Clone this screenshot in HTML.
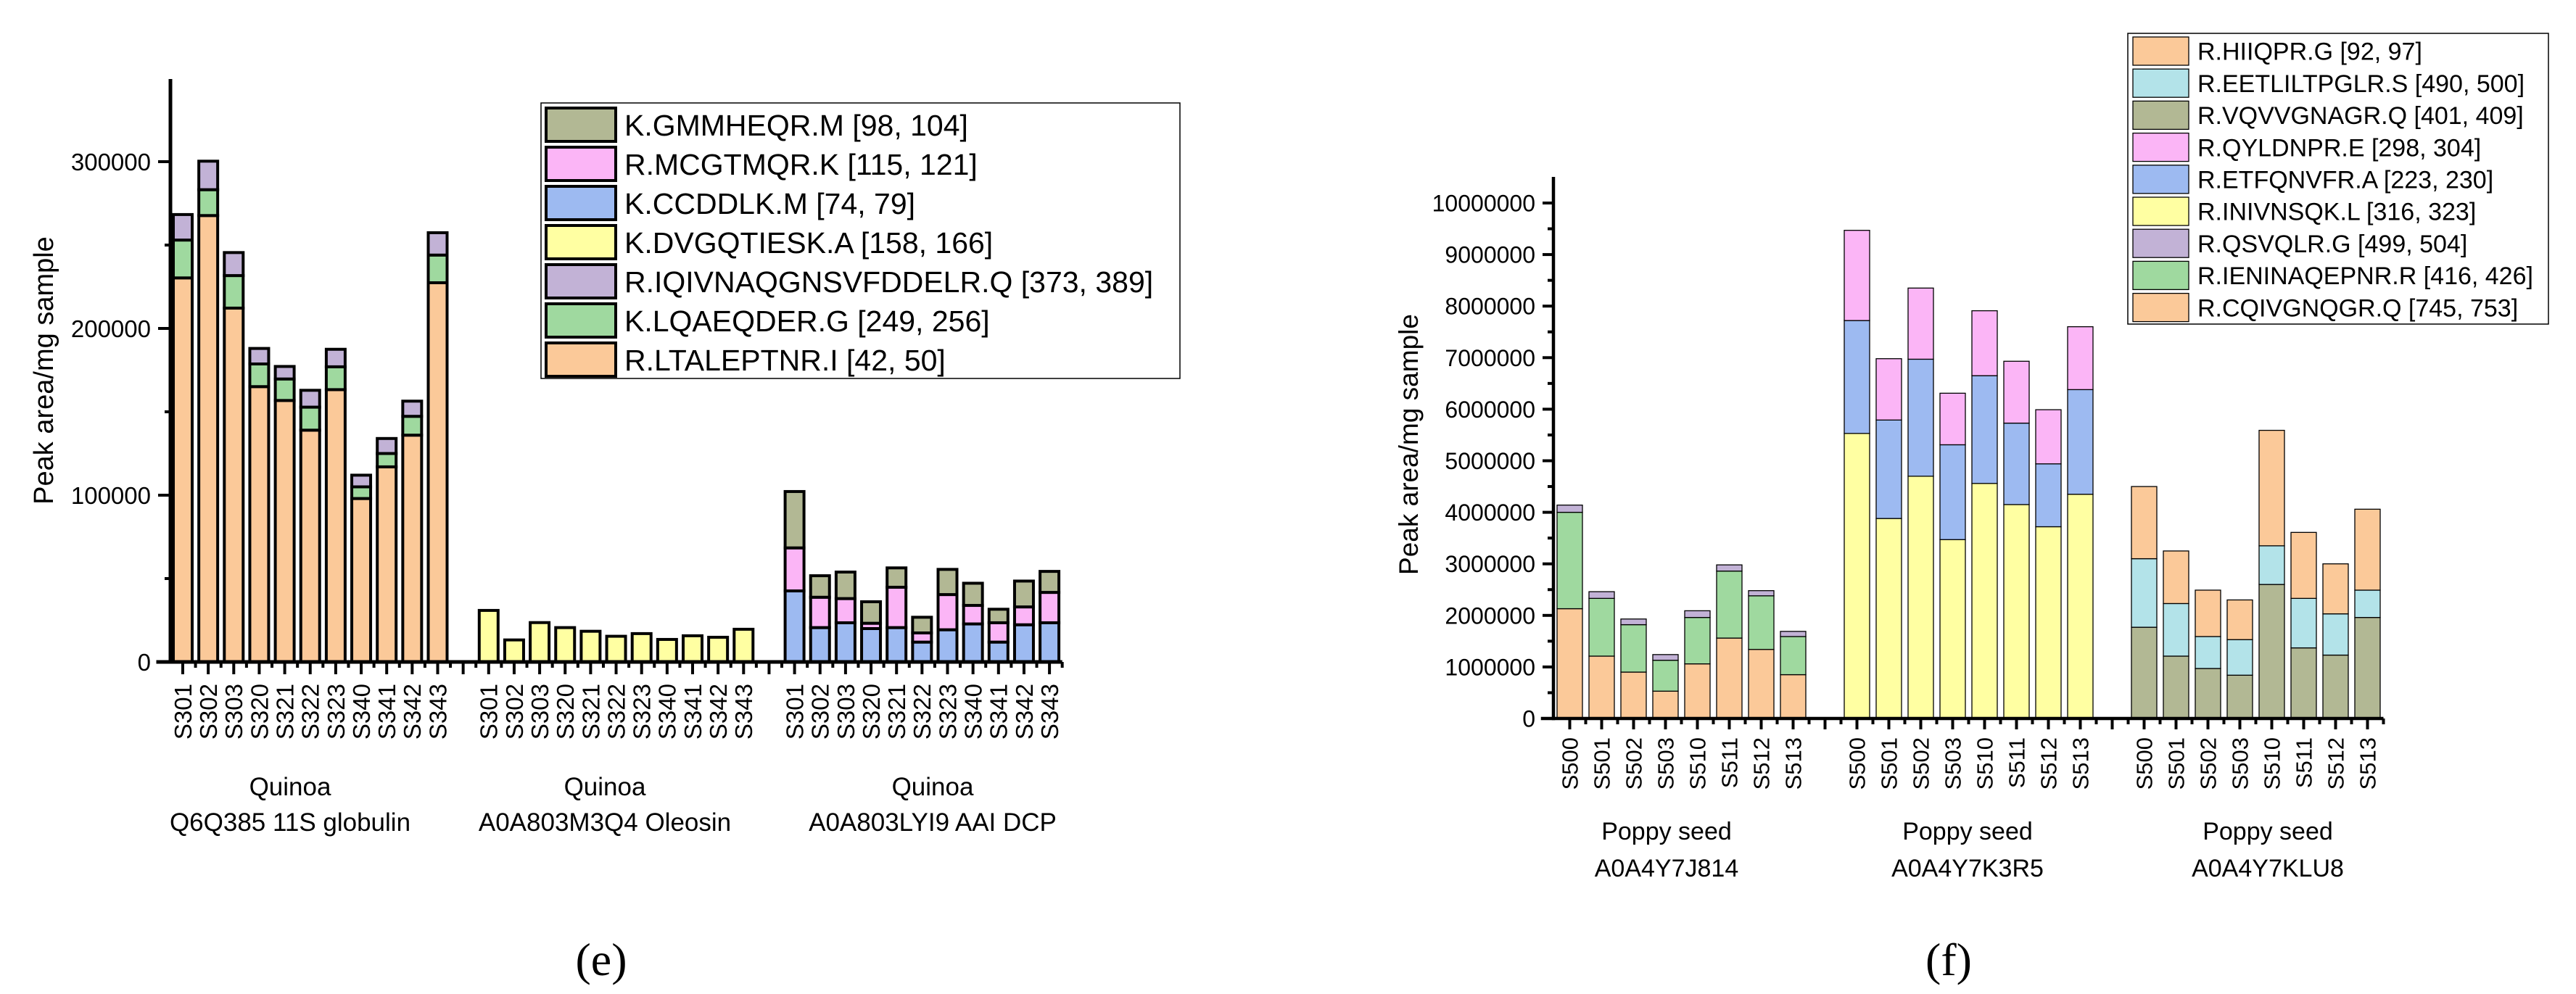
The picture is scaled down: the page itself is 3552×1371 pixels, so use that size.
<!DOCTYPE html>
<html><head><meta charset="utf-8"><style>
html,body{margin:0;padding:0;background:#fff;}
svg{display:block;font-family:"Liberation Sans",Arial,sans-serif;}
</style></head><body>
<svg id="fig" width="3552" height="1371" viewBox="0 0 3552 1371" xmlns="http://www.w3.org/2000/svg">
<rect x="0" y="0" width="3552" height="1371" fill="#fff"/>
<g id="chartE"></g>
<g id="chartF"></g>
<text x="829" y="1345" font-family="Liberation Serif, serif" font-size="64" text-anchor="middle">(e)</text>
<text x="2687" y="1345" font-family="Liberation Serif, serif" font-size="64" text-anchor="middle">(f)</text>
</svg>
<script>
// ---------- Chart (e) data ----------
const eSamples = ["S301","S302","S303","S320","S321","S322","S323","S340","S341","S342","S343"];
const eGroupNames = [["Quinoa","Q6Q385 11S globulin"],["Quinoa","A0A803M3Q4 Oleosin"],["Quinoa","A0A803LYI9 AAI DCP"]];
const eSeriesNames = ["K.GMMHEQR.M [98, 104]","R.MCGTMQR.K [115, 121]","K.CCDDLK.M [74, 79]","K.DVGQTIESK.A [158, 166]","R.IQIVNAQGNSVFDDELR.Q [373, 389]","K.LQAEQDER.G [249, 256]","R.LTALEPTNR.I [42, 50]"];
const eSeriesColors = ["#b2b894","#fbb5f6","#9dbaf1","#ffffa2","#c2b2d6","#9fd99f","#fbc999"];
const eG1Orange = [230300,267700,212200,165100,156800,139000,163300,98000,117000,136000,227400];
const eG1Green  = [22700,15500,19500,13600,12900,13800,13700,7000,8000,11300,16600];
const eG1Purple = [15300,17100,13800,9300,7500,10100,10500,7000,9000,9100,13400];
const eG2Yellow = [30900,13200,23600,20600,18400,15400,17000,13500,15700,14800,19600];
const eG3Blue  = [42600,20600,23500,20000,20600,11900,19300,22800,11900,22300,23500];
const eG3Pink  = [25800,18200,14500,3200,24200,5500,21100,11100,11600,10700,18200];
const eG3Olive = [33800,12900,15900,12900,11600,9400,15100,13300,8100,15500,12600];
const eYTicks = [0,100000,200000,300000];
const eYTickLabels = ["0","100000","200000","300000"];

// ---------- Chart (f) data ----------
const fSamples = ["S500","S501","S502","S503","S510","S511","S512","S513"];
const fGroupNames = [["Poppy seed","A0A4Y7J814"],["Poppy seed","A0A4Y7K3R5"],["Poppy seed","A0A4Y7KLU8"]];
const fSeriesNames = ["R.HIIQPR.G [92, 97]","R.EETLILTPGLR.S [490, 500]","R.VQVVGNAGR.Q [401, 409]","R.QYLDNPR.E [298, 304]","R.ETFQNVFR.A [223, 230]","R.INIVNSQK.L [316, 323]","R.QSVQLR.G [499, 504]","R.IENINAQEPNR.R [416, 426]","R.CQIVGNQGR.Q [745, 753]"];
const fSeriesColors = ["#fbc999","#b3e3e9","#b2b894","#fbb5f6","#9dbaf1","#ffffa2","#c2b2d6","#9fd99f","#fbc999"];
const fGAOrange = [2130000,1210000,900000,530000,1060000,1560000,1340000,850000];
const fGAGreen  = [1870000,1120000,920000,600000,900000,1300000,1040000,740000];
const fGAPurple = [140000,130000,110000,110000,130000,120000,100000,100000];
const fGBYellow = [5530000,3880000,4700000,3470000,4560000,4150000,3720000,4350000];
const fGBBlue   = [2190000,1910000,2270000,1840000,2090000,1580000,1220000,2030000];
const fGBPink   = [1750000,1190000,1380000,1000000,1260000,1200000,1050000,1220000];
const fGCOlive  = [1770000,1210000,970000,840000,2600000,1370000,1230000,1960000];
const fGCCyan   = [1330000,1020000,620000,690000,750000,960000,800000,530000];
const fGCOrange = [1400000,1020000,900000,770000,2240000,1280000,970000,1570000];
const fYTicks = [0,1000000,2000000,3000000,4000000,5000000,6000000,7000000,8000000,9000000,10000000];
const fYTickLabels = ["0","1000000","2000000","3000000","4000000","5000000","6000000","7000000","8000000","9000000","10000000"];

const NS = "http://www.w3.org/2000/svg";
function mk(parent, tag, attrs, text){
  const el = document.createElementNS(NS, tag);
  for (const k in attrs) el.setAttribute(k, attrs[k]);
  if (text !== undefined) el.textContent = text;
  parent.appendChild(el);
  return el;
}

function drawChart(g, cfg){
  const yScale = v => cfg.zeroY - v * cfg.pxPerUnit;
  const xCenter = i => cfg.firstCenter + i * cfg.slot;
  cfg.groups.forEach((grp, gi) => {
    grp.stacks[0].forEach((_, si) => {
      const slotIdx = gi * (cfg.samples.length + 1) + si;
      const cx = xCenter(slotIdx);
      let base = 0;
      grp.stacks.forEach((arr, k) => {
        const v = arr[si];
        const r = mk(g, "rect", {x: cx - cfg.barW/2, y: yScale(base + v), width: cfg.barW, height: yScale(base) - yScale(base + v), fill: grp.colors[k], stroke: "#000", "stroke-width": cfg.barStroke});
        
        
        base += v;
      });
    });
  });
  const nSlots = cfg.groups.length * (cfg.samples.length + 1) - 1;
  const xStart = cfg.axisX, xEnd = xCenter(nSlots - 1) + cfg.slot/2;
  const yAx = mk(g, "line", {x1: cfg.axisX, y1: cfg.axisTop, x2: cfg.axisX, y2: cfg.zeroY + cfg.axisW/2, stroke: "#000", "stroke-width": cfg.axisW});
  
  
  const xAx = mk(g, "line", {x1: xStart - cfg.axisW/2 - cfg.yMajor, y1: cfg.zeroY, x2: xEnd, y2: cfg.zeroY, stroke: "#000", "stroke-width": cfg.axisW});
  
  
  cfg.yTicks.forEach((v, i) => {
    const y = yScale(v);
    const t = mk(g, "line", {x1: cfg.axisX - cfg.yMajor, y1: y, x2: cfg.axisX, y2: y, stroke: "#000", "stroke-width": cfg.tickW});
    
    
    const lb = mk(g, "text", {x: cfg.axisX - cfg.yMajor - 10, y: y + cfg.tickFont*0.36, "font-size": cfg.tickFont, "text-anchor": "end"}, cfg.yTickLabels[i]);
    
    
    if (i < cfg.yTicks.length - 1) {
      const ym = yScale((v + cfg.yTicks[i+1]) / 2);
      const m = mk(g, "line", {x1: cfg.axisX - cfg.yMinor, y1: ym, x2: cfg.axisX, y2: ym, stroke: "#000", "stroke-width": cfg.tickW});
      
      
    }
  });
  for (let s = 0; s < nSlots; s++) {
    const cx = xCenter(s);
    const mj = mk(g, "line", {x1: cx, y1: cfg.zeroY, x2: cx, y2: cfg.zeroY + cfg.xMajor, stroke: "#000", "stroke-width": cfg.tickW});
    
    
    const bx = cx + cfg.slot/2;
    const mn = mk(g, "line", {x1: bx, y1: cfg.zeroY, x2: bx, y2: cfg.zeroY + cfg.xMinor, stroke: "#000", "stroke-width": cfg.tickW});
    
    
  }
  cfg.groups.forEach((grp, gi) => {
    cfg.samples.forEach((s, si) => {
      const cx = xCenter(gi * (cfg.samples.length + 1) + si);
      const ly = cfg.zeroY + cfg.labelGap;
      const t = mk(g, "text", {x: 0, y: 0, "font-size": cfg.xFont, "text-anchor": "end", transform: `translate(${cx + cfg.xFont*0.36},${ly}) rotate(-90)`}, s);
      
      
    });
    const gx = cfg.groupLabelX[gi];
    grp.names.forEach((nm, li) => {
      const t = mk(g, "text", {x: gx, y: cfg.groupLabelY[li], "font-size": cfg.groupFont, "text-anchor": "middle"}, nm);
      
      
    });
  });
  const yt = mk(g, "text", {x: 0, y: 0, "font-size": cfg.titleFont, "text-anchor": "middle", transform: `translate(${cfg.titleX},${cfg.titleY}) rotate(-90)`}, "Peak area/mg sample");
  
  
  const L = cfg.legend;
  const box = mk(g, "rect", {x: L.x, y: L.y, width: L.w, height: L.h, fill: "#fff", stroke: "#000", "stroke-width": 1.5});
  
  
  cfg.seriesNames.forEach((nm, i) => {
    const ry = L.y + L.pad + i * L.row;
    const sw = mk(g, "rect", {x: L.x + 7, y: ry, width: L.swW, height: L.swH, fill: cfg.seriesColors[i], stroke: "#000", "stroke-width": L.swStroke});
    
    
    const tx = mk(g, "text", {x: L.textX, y: ry + L.swH/2 + L.font*0.36, "font-size": L.font}, nm);
    
    
  });
}

drawChart(document.getElementById("chartE"), {
  samples: eSamples, seriesNames: eSeriesNames, seriesColors: eSeriesColors,
  yTicks: eYTicks, yTickLabels: eYTickLabels,
  groups: [
    {key: "globulin", names: eGroupNames[0], stacks: [eG1Orange, eG1Green, eG1Purple], colors: [eSeriesColors[6], eSeriesColors[5], eSeriesColors[4]]},
    {key: "oleosin", names: eGroupNames[1], stacks: [eG2Yellow], colors: [eSeriesColors[3]]},
    {key: "dcp", names: eGroupNames[2], stacks: [eG3Blue, eG3Pink, eG3Olive], colors: [eSeriesColors[2], eSeriesColors[1], eSeriesColors[0]]}
  ],
  zeroY: 913, pxPerUnit: 230/100000, firstCenter: 252, slot: 35.15, barW: 26, barStroke: 4,
  axisX: 235, axisTop: 109, axisW: 5, tickW: 4, yMajor: 17, yMinor: 8, xMajor: 17, xMinor: 8,
  tickFont: 33, xFont: 33, labelGap: 30, groupFont: 35, groupLabelX: [400, 834, 1286], groupLabelY: [1097, 1146],
  titleFont: 38, titleX: 73, titleY: 511,
  legend: {x: 746, y: 142, w: 881, h: 380, pad: 7, row: 54, swW: 96, swH: 46, swStroke: 4, textX: 861, font: 41}
});

drawChart(document.getElementById("chartF"), {
  samples: fSamples, seriesNames: fSeriesNames, seriesColors: fSeriesColors,
  yTicks: fYTicks, yTickLabels: fYTickLabels,
  groups: [
    {key: "J814", names: fGroupNames[0], stacks: [fGAOrange, fGAGreen, fGAPurple], colors: [fSeriesColors[8], fSeriesColors[7], fSeriesColors[6]]},
    {key: "K3R5", names: fGroupNames[1], stacks: [fGBYellow, fGBBlue, fGBPink], colors: [fSeriesColors[5], fSeriesColors[4], fSeriesColors[3]]},
    {key: "KLU8", names: fGroupNames[2], stacks: [fGCOlive, fGCCyan, fGCOrange], colors: [fSeriesColors[2], fSeriesColors[1], fSeriesColors[0]]}
  ],
  zeroY: 991, pxPerUnit: 71.1/1000000, firstCenter: 2164.5, slot: 44, barW: 35, barStroke: 1.3,
  axisX: 2142, axisTop: 244, axisW: 4.5, tickW: 4, yMajor: 15, yMinor: 8, xMajor: 15, xMinor: 8,
  tickFont: 32, xFont: 31, labelGap: 26, groupFont: 34, groupLabelX: [2298, 2713, 3127], groupLabelY: [1158, 1209],
  titleFont: 37, titleX: 1955, titleY: 613,
  legend: {x: 2934, y: 46, w: 580, h: 401, pad: 5, row: 44.2, swW: 77, swH: 39, swStroke: 1.3, textX: 3030, font: 34}
});
</script>
</body></html>
